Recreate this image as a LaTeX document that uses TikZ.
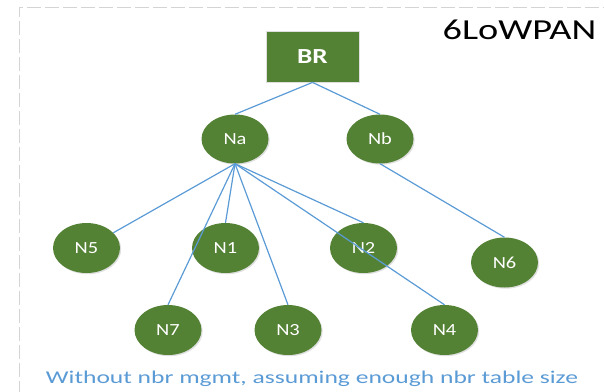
\documentclass[tikz,border=0pt]{standalone}
\usepackage{fontspec}
\setmainfont{Carlito}
\newfontfamily\captfont{Carlito}[FakeStretch=1.42]
\newfontfamily\titlefont{Carlito}[FakeStretch=1.32]
\newfontfamily\labelfont{Carlito}[FakeStretch=1.2]
\newfontfamily\brfont{Carlito}[FakeStretch=1.27]
\usetikzlibrary{shapes.geometric,shadows}
\definecolor{nodegreen}{HTML}{548235}
\definecolor{edgeblue}{HTML}{5B9BD5}
\definecolor{framegray}{HTML}{D4D4D4}
\tikzset{
  nd/.style={ellipse, fill=nodegreen, text=white, minimum width=67pt, minimum height=50pt, inner sep=0pt,
    font=\labelfont\fontsize{17}{17}\selectfont, drop shadow={opacity=0.25, shadow xshift=1.2pt, shadow yshift=-1.2pt}},
  ndbig/.style={nd, minimum width=67pt, minimum height=49pt},
  brbox/.style={rectangle, fill=nodegreen, draw=white!75!gray, line width=0.8pt, text=white, minimum width=93pt, minimum height=51pt,
    font=\brfont\bfseries\fontsize{21.5}{21.5}\selectfont, drop shadow={opacity=0.25, shadow xshift=1.2pt, shadow yshift=-1.2pt}},
  edge/.style={draw=edgeblue, line width=1.2pt},
  frame/.style={draw=framegray, line width=1pt, dash pattern=on 14pt off 4pt}
}
\begin{document}
\begin{tikzpicture}[x=1pt,y=-1pt]
\useasboundingbox (0,0) rectangle (604,391);
\draw[frame] (19,395) -- (19,7) -- (610,7);
\node[font=\titlefont\fontsize{29}{29}\selectfont, anchor=base] (title) at (519.5,39.5) {6LoWPAN};
\node[brbox] (BR) at (312.5,56.5) {BR};
\node[ndbig] (Na) at (235,139) {Na};
\node[ndbig] (Nb) at (380,139) {Nb};
\node[nd] (N5) at (86.5,248) {N5};
\node[nd] (N1) at (225.5,248) {N1};
\node[nd] (N2) at (363.5,248) {N2};
\node[nd] (N6) at (504.5,262.5) {N6};
\node[nd] (N7) at (168,330) {N7};
\node[nd] (N3) at (288,330) {N3};
\node[nd] (N4) at (444.5,330) {N4};
\path[edge] (BR.south) -- (Na.north);
\path[edge] (BR.south) -- (Nb.north);
\path[edge] (Na.south) -- (N5);
\path[edge] (Na.south) -- (N1.north);
\path[edge] (Na.south) -- (N7.north);
\path[edge] (Na.south) -- (N3.north);
\path[edge] (Na.south) -- (N2.north);
\path[edge] (Na.south) -- (N4.north);
\path[edge] (Nb.south) -- (N6.north);
\node[text=edgeblue, font=\captfont\fontsize{18}{18}\selectfont, anchor=base] (cap) at (312,383.5) {Without nbr mgmt, assuming enough nbr table size};
\end{tikzpicture}
\end{document}
